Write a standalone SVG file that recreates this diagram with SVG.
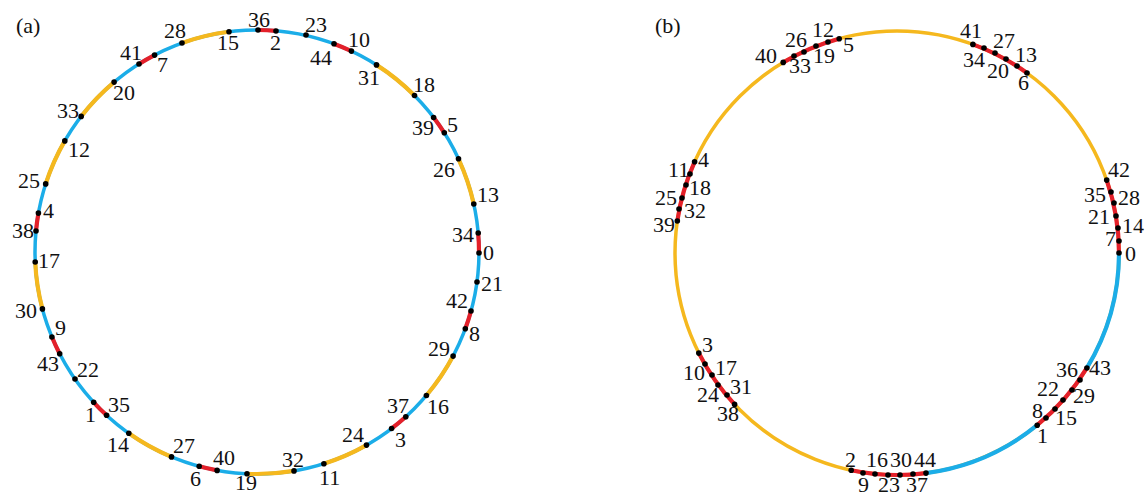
<svg xmlns="http://www.w3.org/2000/svg" width="1148" height="500" viewBox="0 0 1148 500">
<style>
.ring{fill:none;stroke-width:3.5}
.ov{stroke-width:4.2}
.b{stroke:#1BADE8}
.o{stroke:#F5B81E}
.r{stroke:#E4202A}
.n circle{fill:#000}
text{font-family:"Liberation Serif","Times New Roman","DejaVu Serif",serif;font-size:22px;fill:#111}
</style>
<rect width="1148" height="500" fill="#fff"/>
<text x="16" y="33">(a)</text>
<text x="655" y="33">(b)</text>
<g id="connectors">
<g id="ring-a">
<circle class="ring b" cx="257" cy="252" r="222"/>
<path class="ring ov r" d="M258,30A222,222 0 0 1 276,30.8M333.75,43.69A222,222 0 0 1 351.43,51.09M433.63,117.52A222,222 0 0 1 444.3,132.81M478.18,232.98A222,222 0 0 1 479,253M471,311A222,222 0 0 1 465.31,328.75M405.79,416.76A222,222 0 0 1 391.63,428.52M217.11,470.39A222,222 0 0 1 199.18,466.33M106.63,415.32A222,222 0 0 1 93.65,402.33M59.65,353.67A222,222 0 0 1 51.93,337.03M36,231A222,222 0 0 1 38.44,213.08M139,64A222,222 0 0 1 154.55,55.06"/>
<path class="ring ov o" d="M376.45,64.87A222,222 0 0 1 414.48,95.53M458.48,158.78A222,222 0 0 1 473.76,204.05M453.11,356.06A222,222 0 0 1 426.4,395.49M366.5,445.11A222,222 0 0 1 323.9,463.68M293.98,470.9A222,222 0 0 1 247.01,473.77M171.47,456.86A222,222 0 0 1 128.82,433.25M42.41,308.89A222,222 0 0 1 35.23,261.99M45.7,183.9A222,222 0 0 1 64.81,140.89M81.22,116.4A222,222 0 0 1 114.1,82.12M182,43A222,222 0 0 1 228.97,31.77"/>
</g>
<g id="ring-b">
<circle class="ring o" cx="897" cy="253" r="222"/>
<path class="ring ov b" d="M1119,253A222,222 0 0 1 1086.91,367.95M1037.15,425.18A222,222 0 0 1 926.01,473.1"/>
<path class="ring ov r" d="M1106.69,180.11A222,222 0 0 1 1119,253M1086.91,367.95A222,222 0 0 1 1037.15,425.18M926.01,473.1A222,222 0 0 1 851.17,470.22M734.6,404.37A222,222 0 0 1 698.84,353.08M677.32,221.05A222,222 0 0 1 694.59,161.82M783.22,62.37A222,222 0 0 1 839.18,38.67M972.87,44.37A222,222 0 0 1 1027,73"/>
</g>
</g>
<g id="nodes-a">
<g class="n" id="a36"><circle cx="258" cy="30" r="2.8"/><text x="248" y="27">36</text></g>
<g class="n" id="a2"><circle cx="276" cy="31" r="2.8"/><text x="270" y="50">2</text></g>
<g class="n" id="a23"><circle cx="306" cy="35" r="2.8"/><text x="305" y="32">23</text></g>
<g class="n" id="a44"><circle cx="334" cy="43.7" r="2.8"/><text x="310" y="65">44</text></g>
<g class="n" id="a10"><circle cx="351.4" cy="51.1" r="2.8"/><text x="348" y="47">10</text></g>
<g class="n" id="a31"><circle cx="376.5" cy="64.9" r="2.8"/><text x="358" y="85">31</text></g>
<g class="n" id="a18"><circle cx="414.5" cy="95.5" r="2.8"/><text x="413" y="92">18</text></g>
<g class="n" id="a39"><circle cx="433.6" cy="117.5" r="2.8"/><text x="412" y="135">39</text></g>
<g class="n" id="a5"><circle cx="444.3" cy="132.8" r="2.8"/><text x="447" y="132">5</text></g>
<g class="n" id="a26"><circle cx="458.5" cy="158.8" r="2.8"/><text x="433" y="177">26</text></g>
<g class="n" id="a13"><circle cx="473.8" cy="204" r="2.8"/><text x="477" y="202">13</text></g>
<g class="n" id="a34"><circle cx="478.2" cy="233" r="2.8"/><text x="452" y="242">34</text></g>
<g class="n" id="a0"><circle cx="479" cy="253" r="2.8"/><text x="483" y="260">0</text></g>
<g class="n" id="a21"><circle cx="477" cy="282" r="2.8"/><text x="481" y="291">21</text></g>
<g class="n" id="a42"><circle cx="471" cy="311" r="2.8"/><text x="446" y="308">42</text></g>
<g class="n" id="a8"><circle cx="465.3" cy="328.8" r="2.8"/><text x="469" y="341">8</text></g>
<g class="n" id="a29"><circle cx="453.1" cy="356.1" r="2.8"/><text x="428" y="356">29</text></g>
<g class="n" id="a16"><circle cx="426.4" cy="395.5" r="2.8"/><text x="427" y="414">16</text></g>
<g class="n" id="a37"><circle cx="405.8" cy="416.8" r="2.8"/><text x="387" y="413">37</text></g>
<g class="n" id="a3"><circle cx="391.6" cy="428.5" r="2.8"/><text x="395" y="447">3</text></g>
<g class="n" id="a24"><circle cx="366.5" cy="445.1" r="2.8"/><text x="342" y="442">24</text></g>
<g class="n" id="a11"><circle cx="323.9" cy="463.7" r="2.8"/><text x="319" y="485">11</text></g>
<g class="n" id="a32"><circle cx="294" cy="470.9" r="2.8"/><text x="282" y="467">32</text></g>
<g class="n" id="a19"><circle cx="247" cy="473.8" r="2.8"/><text x="235" y="490">19</text></g>
<g class="n" id="a40"><circle cx="217.1" cy="470.4" r="2.8"/><text x="213" y="465">40</text></g>
<g class="n" id="a6"><circle cx="199.2" cy="466.3" r="2.8"/><text x="190" y="486">6</text></g>
<g class="n" id="a27"><circle cx="171.5" cy="456.9" r="2.8"/><text x="173" y="453">27</text></g>
<g class="n" id="a14"><circle cx="128.8" cy="433.3" r="2.8"/><text x="107" y="452">14</text></g>
<g class="n" id="a35"><circle cx="106.6" cy="415.3" r="2.8"/><text x="108" y="412">35</text></g>
<g class="n" id="a1"><circle cx="93.7" cy="402.3" r="2.8"/><text x="85" y="422">1</text></g>
<g class="n" id="a22"><circle cx="75" cy="379" r="2.8"/><text x="77" y="377">22</text></g>
<g class="n" id="a43"><circle cx="59.7" cy="353.7" r="2.8"/><text x="37" y="371">43</text></g>
<g class="n" id="a9"><circle cx="51.9" cy="337" r="2.8"/><text x="55" y="335">9</text></g>
<g class="n" id="a30"><circle cx="42.4" cy="308.9" r="2.8"/><text x="15" y="318">30</text></g>
<g class="n" id="a17"><circle cx="35.2" cy="262" r="2.8"/><text x="38" y="268">17</text></g>
<g class="n" id="a38"><circle cx="36" cy="231" r="2.8"/><text x="12" y="238">38</text></g>
<g class="n" id="a4"><circle cx="38.4" cy="213.1" r="2.8"/><text x="43" y="218">4</text></g>
<g class="n" id="a25"><circle cx="45.7" cy="183.9" r="2.8"/><text x="18" y="188">25</text></g>
<g class="n" id="a12"><circle cx="64.8" cy="140.9" r="2.8"/><text x="68" y="157">12</text></g>
<g class="n" id="a33"><circle cx="81.2" cy="116.4" r="2.8"/><text x="57" y="118">33</text></g>
<g class="n" id="a20"><circle cx="114.1" cy="82.1" r="2.8"/><text x="113" y="100">20</text></g>
<g class="n" id="a41"><circle cx="139" cy="64" r="2.8"/><text x="120" y="60">41</text></g>
<g class="n" id="a7"><circle cx="154.6" cy="55.1" r="2.8"/><text x="157" y="72">7</text></g>
<g class="n" id="a28"><circle cx="182" cy="43" r="2.8"/><text x="164" y="38">28</text></g>
<g class="n" id="a15"><circle cx="229" cy="31.8" r="2.8"/><text x="217" y="50">15</text></g>
</g>
<g id="nodes-b">
<g class="n" id="b40"><circle cx="783.2" cy="62.4" r="2.8"/><text x="755" y="63">40</text></g>
<g class="n" id="b33"><circle cx="794" cy="56" r="2.8"/><text x="789" y="73">33</text></g>
<g class="n" id="b26"><circle cx="804" cy="52" r="2.8"/><text x="785" y="47">26</text></g>
<g class="n" id="b19"><circle cx="816" cy="46" r="2.8"/><text x="813" y="63">19</text></g>
<g class="n" id="b12"><circle cx="828" cy="42" r="2.8"/><text x="812" y="37">12</text></g>
<g class="n" id="b5"><circle cx="839.2" cy="38.7" r="2.8"/><text x="843" y="52">5</text></g>
<g class="n" id="b41"><circle cx="972.9" cy="44.4" r="2.8"/><text x="960" y="38">41</text></g>
<g class="n" id="b34"><circle cx="984" cy="48" r="2.8"/><text x="963" y="67">34</text></g>
<g class="n" id="b27"><circle cx="995" cy="53" r="2.8"/><text x="993" y="48">27</text></g>
<g class="n" id="b20"><circle cx="1006" cy="59" r="2.8"/><text x="987" y="78">20</text></g>
<g class="n" id="b13"><circle cx="1017" cy="66" r="2.8"/><text x="1015" y="62">13</text></g>
<g class="n" id="b6"><circle cx="1027" cy="73" r="2.8"/><text x="1018" y="90">6</text></g>
<g class="n" id="b42"><circle cx="1106.7" cy="180.1" r="2.8"/><text x="1108" y="177">42</text></g>
<g class="n" id="b35"><circle cx="1111" cy="192" r="2.8"/><text x="1084" y="202">35</text></g>
<g class="n" id="b28"><circle cx="1114" cy="203" r="2.8"/><text x="1118" y="205">28</text></g>
<g class="n" id="b21"><circle cx="1116" cy="216" r="2.8"/><text x="1088" y="224">21</text></g>
<g class="n" id="b14"><circle cx="1118" cy="228" r="2.8"/><text x="1122" y="233">14</text></g>
<g class="n" id="b7"><circle cx="1119" cy="241" r="2.8"/><text x="1105" y="246">7</text></g>
<g class="n" id="b0"><circle cx="1119" cy="253" r="2.8"/><text x="1125" y="261">0</text></g>
<g class="n" id="b43"><circle cx="1086.9" cy="368" r="2.8"/><text x="1089" y="375">43</text></g>
<g class="n" id="b36"><circle cx="1080" cy="380" r="2.8"/><text x="1056" y="377">36</text></g>
<g class="n" id="b29"><circle cx="1072" cy="390" r="2.8"/><text x="1073" y="403">29</text></g>
<g class="n" id="b22"><circle cx="1063" cy="400" r="2.8"/><text x="1037" y="396">22</text></g>
<g class="n" id="b15"><circle cx="1055" cy="409" r="2.8"/><text x="1055" y="425">15</text></g>
<g class="n" id="b8"><circle cx="1046" cy="418" r="2.8"/><text x="1032" y="418">8</text></g>
<g class="n" id="b1"><circle cx="1037.2" cy="425.2" r="2.8"/><text x="1037" y="443">1</text></g>
<g class="n" id="b44"><circle cx="926" cy="473.1" r="2.8"/><text x="914" y="467">44</text></g>
<g class="n" id="b37"><circle cx="913" cy="474" r="2.8"/><text x="906" y="492">37</text></g>
<g class="n" id="b30"><circle cx="900" cy="475" r="2.8"/><text x="890" y="467">30</text></g>
<g class="n" id="b23"><circle cx="888" cy="475" r="2.8"/><text x="878" y="492">23</text></g>
<g class="n" id="b16"><circle cx="875" cy="474" r="2.8"/><text x="866" y="467">16</text></g>
<g class="n" id="b9"><circle cx="863" cy="473" r="2.8"/><text x="858" y="492">9</text></g>
<g class="n" id="b2"><circle cx="851.2" cy="470.2" r="2.8"/><text x="845" y="467">2</text></g>
<g class="n" id="b38"><circle cx="734.6" cy="404.4" r="2.8"/><text x="717" y="421">38</text></g>
<g class="n" id="b31"><circle cx="727" cy="395" r="2.8"/><text x="730" y="394">31</text></g>
<g class="n" id="b24"><circle cx="718" cy="385" r="2.8"/><text x="697" y="402">24</text></g>
<g class="n" id="b17"><circle cx="712" cy="375" r="2.8"/><text x="715" y="375">17</text></g>
<g class="n" id="b10"><circle cx="705" cy="364" r="2.8"/><text x="683" y="380">10</text></g>
<g class="n" id="b3"><circle cx="698.8" cy="353.1" r="2.8"/><text x="702" y="352">3</text></g>
<g class="n" id="b39"><circle cx="677.3" cy="221" r="2.8"/><text x="653" y="232">39</text></g>
<g class="n" id="b32"><circle cx="679" cy="209" r="2.8"/><text x="684" y="218">32</text></g>
<g class="n" id="b25"><circle cx="682" cy="198" r="2.8"/><text x="655" y="205">25</text></g>
<g class="n" id="b18"><circle cx="686" cy="185" r="2.8"/><text x="689" y="195">18</text></g>
<g class="n" id="b11"><circle cx="690" cy="174" r="2.8"/><text x="668" y="177">11</text></g>
<g class="n" id="b4"><circle cx="694.6" cy="161.8" r="2.8"/><text x="698" y="167">4</text></g>
</g>
</svg>
